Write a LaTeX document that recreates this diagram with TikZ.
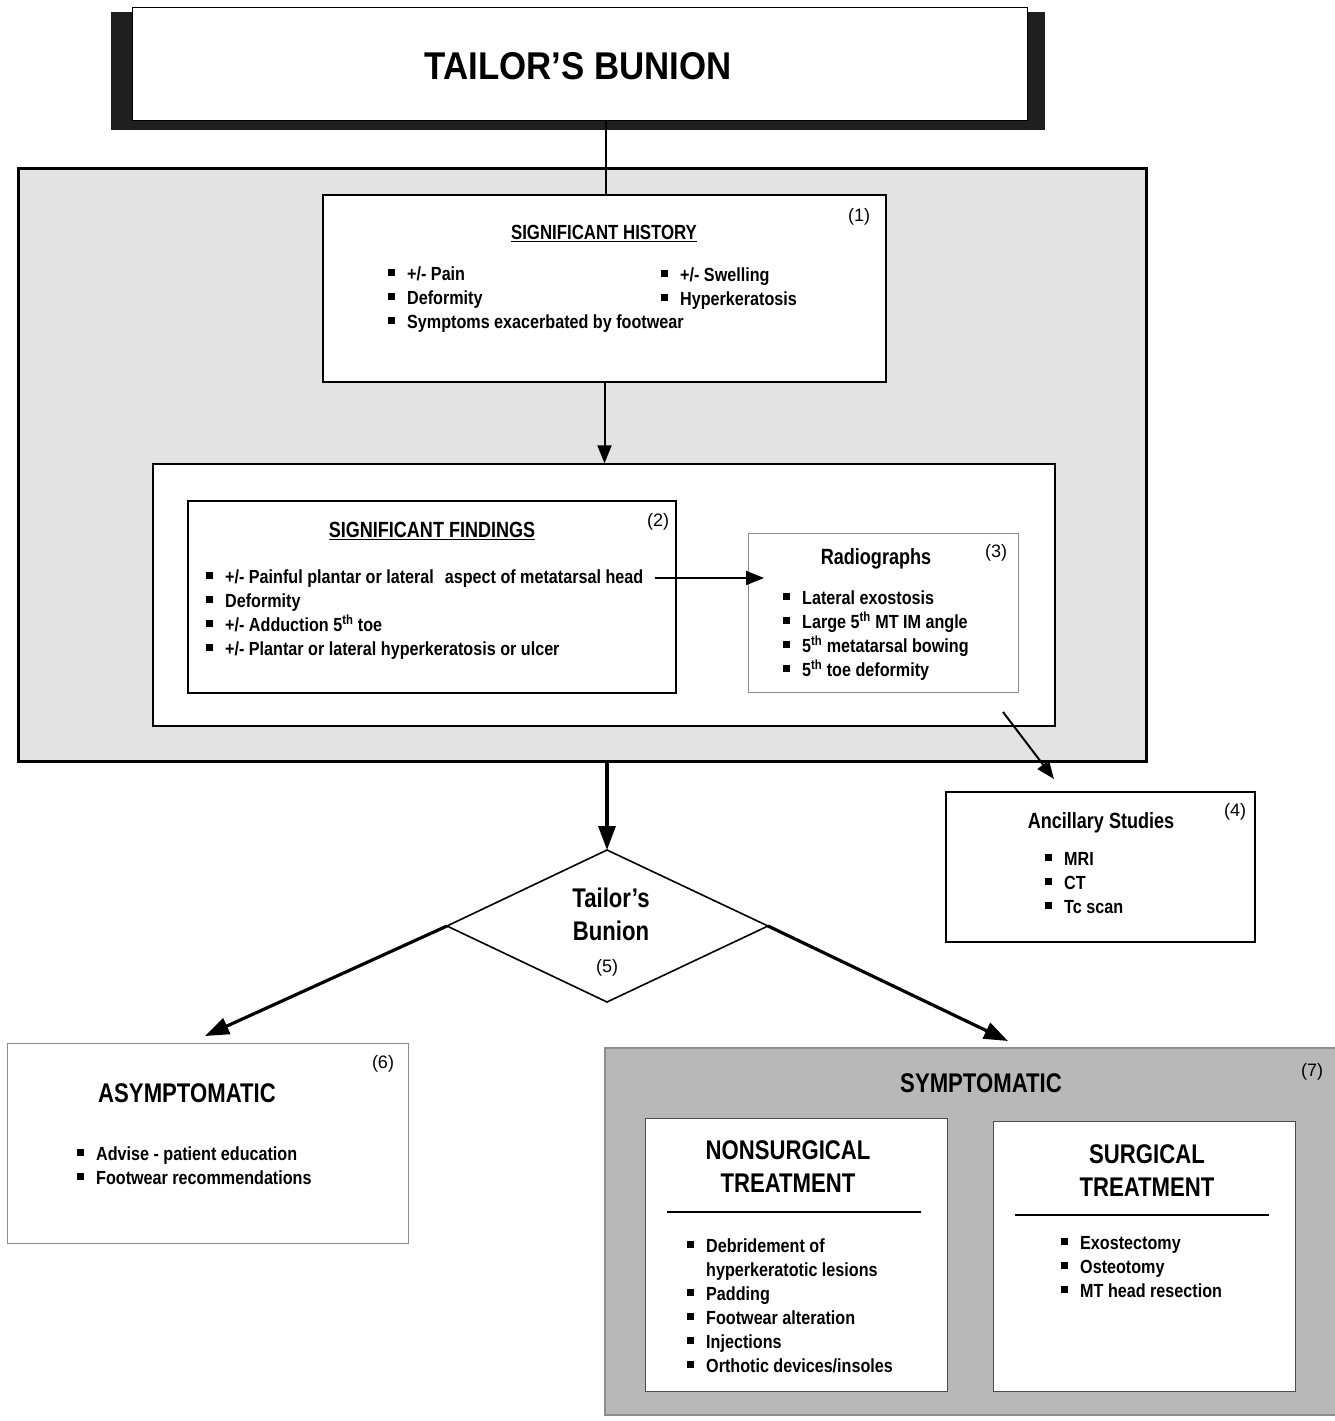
\documentclass[tikz,border=0pt]{standalone}
\usepackage{fontspec}
\setmainfont{Liberation Sans}
\newfontfamily\narrowfont{Liberation Sans}[FakeStretch=0.82]
\newfontfamily\bodyfamily{Liberation Sans}[FakeStretch=0.85]
\newfontfamily\titlefamily{Liberation Sans}[FakeStretch=0.9]
\usetikzlibrary{arrows.meta}

% fonts
\newcommand\bodyfont{\bodyfamily\bfseries\fontsize{19}{24}\selectfont}
\newcommand\headfont{\narrowfont\bfseries\fontsize{22}{26}\selectfont}
\newcommand\bigfont{\narrowfont\bfseries\fontsize{27}{33}\selectfont}
\newcommand\numfont{\fontsize{18}{20}\selectfont}
% square bullet and list helpers
\newcommand\sqb{\rule[4.5pt]{6.5pt}{6.5pt}\hspace{12.5pt}}
\newcommand\blist[1]{\begin{tabular}[t]{@{}l@{}}#1\end{tabular}}
\newcommand\clist[1]{\begin{tabular}[t]{@{}c@{}}#1\end{tabular}}
\newcommand\ul[1]{\setbox0\hbox{#1}\rlap{\rule[-3pt]{\wd0}{1.4pt}}\box0}
\newcommand\thsup{\textsuperscript{th}}

\definecolor{panelgray}{HTML}{E3E3E3}
\definecolor{darkpanel}{HTML}{B8B8B8}
\definecolor{edgegray}{HTML}{8C8C8C}

\tikzset{
  box/.style={draw=black, fill=white, line width=1.4pt, inner sep=0pt},
  lightbox/.style={draw=edgegray, fill=white, line width=1pt, inner sep=0pt},
  list/.style={inner sep=0pt, font=\bodyfont, anchor=base west},
  head/.style={inner sep=0pt, font=\headfont, anchor=base},
  bighead/.style={inner sep=0pt, font=\bigfont, anchor=base},
  num/.style={inner sep=0pt, font=\numfont, anchor=base},
  thinarrow/.style={line width=2pt, -{Triangle[length=18pt,width=14pt]}},
  thickarrow/.style={line width=3.2pt, -{Triangle[length=24pt,width=17pt]}},
}

\begin{document}
\begin{tikzpicture}[x=1pt,y=-1pt]
\useasboundingbox (0,0) rectangle (1335,1421);
\fill[white] (0,0) rectangle (1335,1421);

% title banner with its dark backing
\fill[black!88] (111,12) rectangle (1045,130);
\node[box, line width=1pt, minimum width=895pt, minimum height=112pt] (title) at (579.5,64) {};
\node[inner sep=0pt, anchor=base, font=\titlefamily\bfseries\fontsize{38.7}{44}\selectfont] (titletext) at (578,80) {TAILOR’S BUNION};

% large assessment panel
\node[draw=black, fill=panelgray, line width=3pt, inner sep=0pt, minimum width=1128pt, minimum height=593pt] (panel) at (582,464.5) {};

% history box
\node[box, minimum width=563pt, minimum height=187pt] (hist) at (604.5,288.5) {};
\node[num] (n1) at (859,221) {(1)};
\node[inner sep=0pt, anchor=base, font=\narrowfont\bfseries\fontsize{20.5}{24}\selectfont] (histhead) at (604,239) {\ul{SIGNIFICANT HISTORY}};
\node[list] (histL) at (407,280) {\blist{\llap{\sqb}+/- Pain\\ \llap{\sqb}Deformity\\ \llap{\sqb}Symptoms exacerbated by footwear}};
\node[list] (histR) at (680,281) {\blist{\llap{\sqb}+/- Swelling\\ \llap{\sqb}Hyperkeratosis}};

% findings frame
\node[box, minimum width=902pt, minimum height=262pt] (findouter) at (604,595) {};
\node[box, line width=1.8pt, minimum width=488pt, minimum height=192pt] (find) at (432,597) {};
\node[num] (n2) at (658,526) {(2)};
\node[head] (findhead) at (432,537) {\ul{SIGNIFICANT FINDINGS}};
\node[list] (findlist) at (225,583) {\blist{\llap{\sqb}+/- Painful plantar or lateral\hspace{11pt}aspect of metatarsal head\\
  \llap{\sqb}Deformity\\
  \llap{\sqb}+/- Adduction 5\thsup\ toe\\
  \llap{\sqb}+/- Plantar or lateral hyperkeratosis or ulcer}};

% radiographs
\node[lightbox, minimum width=270pt, minimum height=159pt] (radio) at (883,612.5) {};
\node[num] (n3) at (996,557) {(3)};
\node[head] (radiohead) at (876,564) {Radiographs};
\node[list] (radiolist) at (802,604) {\blist{\llap{\sqb}Lateral exostosis\\
  \llap{\sqb}Large 5\thsup\ MT IM angle\\
  \llap{\sqb}5\thsup\ metatarsal bowing\\
  \llap{\sqb}5\thsup\ toe deformity}};

% ancillary studies
\node[box, minimum width=309pt, minimum height=150pt] (ancil) at (1100.5,867) {};
\node[num] (n4) at (1235,816) {(4)};
\node[head] (ancilhead) at (1101,828) {Ancillary Studies};
\node[list] (ancillist) at (1064,865) {\blist{\llap{\sqb}MRI\\ \llap{\sqb}CT\\ \llap{\sqb}Tc scan}};

% decision diamond
\coordinate (dT) at (607,850);
\coordinate (dR) at (768,926);
\coordinate (dB) at (607,1002);
\coordinate (dL) at (447,926);
\draw[line width=1.6pt, line join=miter, fill=white] (dT) -- (dR) -- (dB) -- (dL) -- cycle;
\node[bighead] (dtext) at (611,907) {\clist{Tailor’s\\Bunion}};
\node[num] (n5) at (607,972) {(5)};

% asymptomatic
\node[lightbox, minimum width=401pt, minimum height=200pt] (asym) at (207.5,1143) {};
\node[num] (n6) at (383,1068) {(6)};
\node[bighead] (asymhead) at (187,1102) {ASYMPTOMATIC};
\node[list] (asymlist) at (96,1160) {\blist{\llap{\sqb}Advise - patient education\\ \llap{\sqb}Footwear recommendations}};

% symptomatic panel
\fill[darkpanel] (605,1048) rectangle (1335,1415);
\draw[edgegray, line width=1.4pt] (1335,1048) -- (605,1048) -- (605,1415) -- (1335,1415);
\node[inner sep=0pt, minimum width=730pt, minimum height=367pt] (symp) at (970,1231.5) {};
\node[num] (n7) at (1312,1076) {(7)};
\node[bighead] (symphead) at (981,1092) {SYMPTOMATIC};

\node[lightbox, draw=black!70, minimum width=302pt, minimum height=273pt] (nonsurg) at (796,1254.5) {};
\node[bighead] (nonsurghead) at (788,1159) {\clist{NONSURGICAL\\TREATMENT}};
\coordinate (nsL) at (667,1212);
\coordinate (nsR) at (921,1212);
\draw[line width=2.8pt] (nsL) -- (nsR);
\node[list] (nonsurglist) at (706,1252) {\blist{\llap{\sqb}Debridement of\\
  hyperkeratotic lesions\\
  \llap{\sqb}Padding\\
  \llap{\sqb}Footwear alteration\\
  \llap{\sqb}Injections\\
  \llap{\sqb}Orthotic devices/insoles}};

\node[lightbox, draw=black!70, minimum width=302pt, minimum height=270pt] (surg) at (1144,1256) {};
\node[bighead] (surghead) at (1147,1163) {\clist{SURGICAL\\TREATMENT}};
\coordinate (sL) at (1015,1215);
\coordinate (sR) at (1269,1215);
\draw[line width=2.8pt] (sL) -- (sR);
\node[list] (surglist) at (1080,1249) {\blist{\llap{\sqb}Exostectomy\\ \llap{\sqb}Osteotomy\\ \llap{\sqb}MT head resection}};

% connectors
\draw[line width=1.3pt] (hist.north -| 606,0) -- (606,120);
\draw[thinarrow] (hist.south) -- (hist.south |- findouter.north);
\coordinate (painend) at (655,578);
\coordinate (radin) at (764,578);
\draw[thinarrow] (painend) -- (radin);
\coordinate (ancfrom) at (1003,712);
\coordinate (ancto) at (1054,779);
\draw[thinarrow] (ancfrom) -- (ancto);
\draw[thickarrow] (dT |- panel.south) -- (dT);
\coordinate (asymto) at (205,1036);
\coordinate (sympto) at (1008,1041);
\draw[thickarrow] (dL) -- (asymto);
\draw[thickarrow] (dR) -- (sympto);
\end{tikzpicture}
\end{document}
